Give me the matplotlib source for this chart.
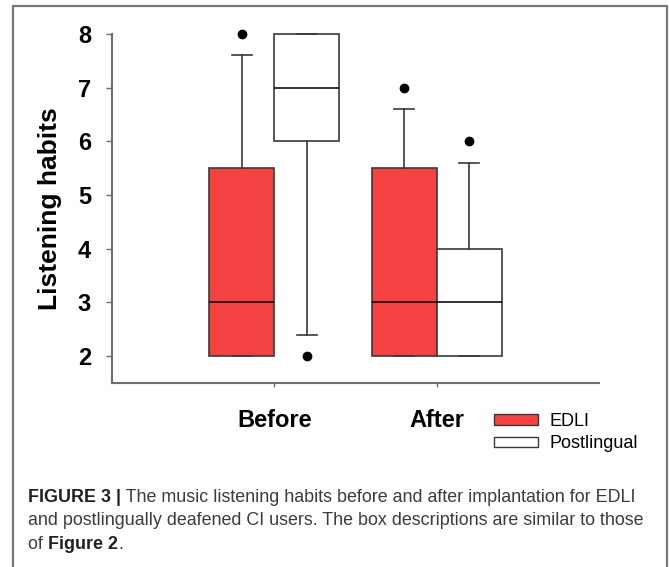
import matplotlib
matplotlib.use('Agg')
import matplotlib.pyplot as plt
import matplotlib.patches as mpatches

plt.rcParams['font.family'] = ['Liberation Sans', 'DejaVu Sans']

# ------------------ data ------------------
groups = ['Before', 'After']
series = ['EDLI', 'Postlingual']
colors = ['#F44242', 'white']

edli_q1 = [2, 2]
edli_med = [3, 3]
edli_q3 = [5.5, 5.5]
edli_lo = [2, 2]
edli_hi = [7.6, 6.6]
edli_out = [[8], [7]]

post_q1 = [6, 2]
post_med = [7, 3]
post_q3 = [8, 4]
post_lo = [2.4, 2]
post_hi = [8, 5.6]
post_out = [[2], [6]]

yticks = [2, 3, 4, 5, 6, 7, 8]


def make_stats(q1, med, q3, lo, hi, out):
    return [dict(q1=a, med=m, q3=b, whislo=l, whishi=h, fliers=f)
            for a, m, b, l, h, f in zip(q1, med, q3, lo, hi, out)]


W, H = 669, 567
fig = plt.figure(figsize=(W / 100, H / 100), dpi=100)
ax = fig.add_axes([112 / W, 1 - 383 / H, (599 - 112) / W, (383 - 34) / H])

edge = '#3a3a3a'
all_stats = [make_stats(edli_q1, edli_med, edli_q3, edli_lo, edli_hi, edli_out),
             make_stats(post_q1, post_med, post_q3, post_lo, post_hi, post_out)]
offsets = [-0.2, 0.2]
for stats, off, col in zip(all_stats, offsets, colors):
    pos = [i + 1 + off for i in range(len(groups))]
    bp = ax.bxp(stats, positions=pos, widths=0.4, patch_artist=True,
                capwidths=0.125, manage_ticks=False,
                boxprops=dict(facecolor=col, edgecolor=edge, linewidth=1.2),
                medianprops=dict(color='#111111', linewidth=1.2),
                whiskerprops=dict(color=edge, linewidth=1.2),
                capprops=dict(color=edge, linewidth=1.2),
                flierprops=dict(marker='o', markerfacecolor='black',
                                markeredgecolor='black', markersize=6))
    for k in ['boxes', 'medians', 'whiskers', 'caps', 'fliers']:
        for a in bp[k]:
            a.set_clip_on(False)

ax.set_xlim(0, 3)
ax.set_ylim(1.5, 8)
ax.spines['top'].set_visible(False)
ax.spines['right'].set_visible(False)
for s in ['left', 'bottom']:
    ax.spines[s].set_color('#6e6e6e')
    ax.spines[s].set_linewidth(1.5)

ax.set_yticks(yticks)
ax.set_yticklabels([str(v) for v in yticks], fontsize=17, fontweight='bold')
ax.set_xticks([1, 2])
ax.set_xticklabels(groups, fontsize=17, fontweight='bold')
ax.tick_params(axis='y', length=4, width=1, color='#6e6e6e', pad=11)
ax.tick_params(axis='x', length=3, width=1, color='#6e6e6e', pad=16)
ax.set_ylabel('Listening habits', fontsize=19, fontweight='bold')
ax.yaxis.set_label_coords((62 - 112) / (599 - 112), 0.5)

handles = [mpatches.Patch(facecolor=c, edgecolor=edge, linewidth=1.0) for c in colors]
fig.legend(handles, series, loc='upper left', bbox_to_anchor=(494 / W, 1 - 413 / H),
           frameon=False, fontsize=13, handlelength=2.45, handleheight=0.5,
           handletextpad=0.6, labelspacing=0.3, borderpad=0, borderaxespad=0)

# frame around the figure panel
fig.patches.append(mpatches.Rectangle((13 / W, -0.05), (667 - 13) / W, 1.05 - 6 / H,
                                      transform=fig.transFigure, fill=False,
                                      edgecolor='#777777', linewidth=1.6))

# caption
cap_color = '#3c3c3c'
renderer = fig.canvas.get_renderer()
probe = fig.text(0, 0, 'and postlingually deafened CI users. The box descriptions are similar to those',
                 fontsize=10)
fs = 10 * (645 - 28) / probe.get_window_extent(renderer).width
probe.remove()

x0 = 28 / W
t1 = fig.text(x0, 1 - 502 / H, 'FIGURE 3 |', fontsize=fs, fontweight='bold', color='#231f20')
w1 = t1.get_window_extent(renderer).width / W
fig.text(x0 + w1, 1 - 502 / H, ' The music listening habits before and after implantation for EDLI',
         fontsize=fs, color=cap_color)
fig.text(x0, 1 - 525 / H, 'and postlingually deafened CI users. The box descriptions are similar to those',
         fontsize=fs, color=cap_color)
t3 = fig.text(x0, 1 - 549 / H, 'of ', fontsize=fs, color=cap_color)
w3 = t3.get_window_extent(renderer).width / W
t4 = fig.text(x0 + w3, 1 - 549 / H, 'Figure 2', fontsize=fs, fontweight='bold', color='#231f20')
w4 = t4.get_window_extent(renderer).width / W
fig.text(x0 + w3 + w4, 1 - 549 / H, '.', fontsize=fs, color=cap_color)

fig.savefig('out.png', dpi=100)
